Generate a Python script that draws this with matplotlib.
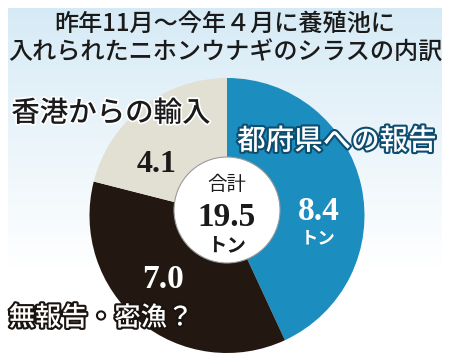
import matplotlib
matplotlib.use("Agg")
from matplotlib import pyplot as plt
from matplotlib import patheffects as pe
from matplotlib.patches import Circle
import numpy as np

plt.rcParams['font.family'] = ['Noto Sans CJK JP', 'DejaVu Sans']

# data
labels = ['都府県への報告', '無報告・密漁？', '香港からの輸入']
values = [8.4, 7.0, 4.1]
value_text = ['8.4', '7.0', '4.1']
colors = ['#1b8dbf', '#221811', '#e2dfd3']
total = 19.5
title_lines = ['昨年11月～今年４月に養殖池に', '入れられたニホンウナギのシラスの内訳']

W, H = 450, 358
fig = plt.figure(figsize=(W / 100, H / 100), dpi=100)
ax = fig.add_axes([0, 0, 1, 1])

# background gradient (light blue -> white)
grad = np.linspace(0, 1, 256).reshape(-1, 1)
top = np.array([0.84, 0.92, 0.965])
img = top + (1 - top) * grad[..., None]
img = np.repeat(img, 2, axis=1)
ax.imshow(img, extent=(8, 442, H - 270, H - 8), aspect='auto', zorder=0,
          origin='upper')

cx, cy = 227, H - 215.5
ax.pie(values, colors=colors, startangle=90, counterclock=False,
       radius=137.5, center=(cx, cy), frame=True,
       wedgeprops=dict(linewidth=0, zorder=2))
ax.add_patch(Circle((cx, H - 210), 53, facecolor='white', edgecolor='#9a9a9a',
                    linewidth=0.8, zorder=3))

ax.set_xlim(0, W)
ax.set_ylim(0, H)
ax.set_aspect('auto')
ax.axis('off')

# title
for i, line in enumerate(title_lines):
    ax.text(225, H - 24 - 29 * i, line, ha='center', va='center',
            fontsize=17.4, fontweight='medium', color='#1a1a1a', zorder=5)

serif = 'Liberation Serif'

# category labels
ax.text(337, H - 141, labels[0], ha='center', va='center', fontsize=20.5,
        fontweight='medium', color='white', zorder=5,
        path_effects=[pe.withStroke(linewidth=3, foreground='#0d4d70')])
ax.text(101, H - 318, labels[1], ha='center', va='center', fontsize=19,
        fontweight='medium', color='white', zorder=5,
        path_effects=[pe.withStroke(linewidth=3, foreground='#1a1410')])
ax.text(111, H - 113, labels[2], ha='center', va='center', fontsize=20.5,
        fontweight='medium', color='#1a1a1a', zorder=5,
        path_effects=[pe.withStroke(linewidth=2.5, foreground='white')])

# values
ax.text(319, H - 211, value_text[0], ha='center', va='center', fontsize=24,
        fontweight='bold', family=serif, color='white', zorder=5)
ax.text(318, H - 238, 'トン', ha='center', va='center', fontsize=12.5,
        fontweight='bold', color='white', zorder=5)
ax.text(163, H - 279, value_text[1], ha='center', va='center', fontsize=24,
        fontweight='bold', family=serif, color='white', zorder=5)
ax.text(157, H - 165, value_text[2], ha='center', va='center', fontsize=23,
        fontweight='bold', family=serif, color='#1a1a1a', zorder=5)

# center total
ax.text(227, H - 185, '合計', ha='center', va='center', fontsize=14,
        color='#1a1a1a', zorder=5)
ax.text(227, H - 217, f'{total}', ha='center', va='center', fontsize=24,
        fontweight='bold', family=serif, color='#1a1a1a', zorder=5)
ax.text(227, H - 246, 'トン', ha='center', va='center', fontsize=14,
        fontweight='bold', color='#1a1a1a', zorder=5)

fig.savefig('out.png', dpi=100)
